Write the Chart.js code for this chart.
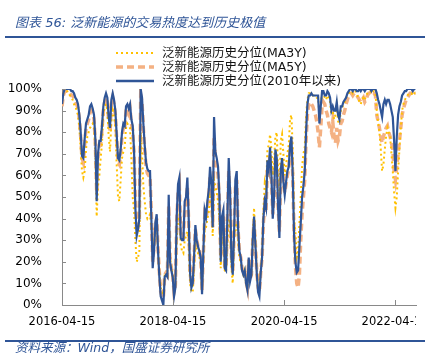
<!DOCTYPE html>
<html lang="zh">

<head>
    <meta charset="UTF-8">
    <script src="https://cdn.jsdelivr.net/npm/chart.js"></script>
    <title>泛新能源的交易热度</title>
    <style>
        body { margin: 0; background: #fff; }
        .wrap { position: relative; width: 443px; height: 364px; overflow: hidden; }
        canvas { position: absolute; left: 0; top: 0; }
        .title, .source { position: absolute; left: 15px; font-style: italic; color: #2F5597; white-space: nowrap;
            font-family: "DejaVu Sans", "Noto Sans CJK SC", sans-serif; }
        .title { top: 14px; font-size: 13px; line-height: 18px; }
        .source { top: 341px; font-size: 12.5px; line-height: 14px; }
        .rule { position: absolute; left: 5px; width: 420px; height: 2px; background: #2F5597; }
        .legend { position: absolute; left: 115px; font-family: "DejaVu Sans", "Noto Sans CJK SC", sans-serif;
            font-size: 12.5px; line-height: 14px; color: #111; }
        .legend div { height: 14px; display: flex; align-items: center; white-space: nowrap; }
        .legend svg { width: 40px; height: 14px; margin-right: 7px; }
    </style>
</head>

<body>
    <div class="wrap">
        <canvas id="heatChart" width="443" height="364"></canvas>
        <div class="title">图表 56: 泛新能源的交易热度达到历史极值</div>
        <div class="rule" style="top:36px"></div>
        <div class="legend" style="top:46px">
            <div><svg><line x1="1" y1="7" x2="39" y2="7" stroke="#FFC000" stroke-width="2" stroke-dasharray="2 3"/></svg>泛新能源历史分位(MA3Y)</div>
            <div><svg><line x1="1" y1="7" x2="39" y2="7" stroke="#F4B183" stroke-width="3.5" stroke-dasharray="7 4"/></svg>泛新能源历史分位(MA5Y)</div>
            <div><svg><line x1="1" y1="7" x2="39" y2="7" stroke="#2F5597" stroke-width="2.5"/></svg>泛新能源历史分位(2010年以来)</div>
        </div>
        <div class="rule" style="top:340px"></div>
        <div class="source">资料来源：Wind，国盛证券研究所</div>
    </div>

<script>
    // x axis labels and the first date of the series
    const tickDates = ['2016-04-15', '2018-04-15', '2020-04-15', '2022-04-15'];
    const startDate = '2016-04-15';
    const dayStep = 8.775;   // days between two samples
    const lastDay = 2329;

    const seriesNames = ['泛新能源历史分位(2010年以来)', '泛新能源历史分位(MA3Y)', '泛新能源历史分位(MA5Y)'];

    // 泛新能源历史分位(2010年以来)
    const since2010 = [
        93, 98, 100, 100, 100, 100, 100, 99, 99, 98,
        96, 95, 93, 88, 80, 69, 68, 77, 84, 86,
        88, 92, 93, 91, 88, 77, 48, 70, 76, 76,
        83, 92, 96, 98, 96, 87, 82, 95, 98, 95,
        90, 79, 68, 67, 72, 80, 84, 83, 92, 93,
        91, 93, 86, 83, 72, 45, 32, 35, 40, 100,
        96, 84, 74, 66, 63, 62, 62, 40, 17, 25,
        38, 42, 25, 13, 4, 2, 0, 13, 14, 13,
        51, 20, 16, 13, 4, 8, 41, 56, 59, 31,
        30, 30, 48, 50, 59, 40, 15, 8, 10, 22,
        37, 30, 27, 25, 22, 5, 25, 44, 41, 48,
        53, 64, 56, 36, 87, 71, 68, 64, 51, 20,
        41, 44, 17, 16, 41, 68, 53, 22, 14, 33,
        58, 62, 36, 25, 22, 16, 14, 16, 10, 7,
        22, 11, 14, 30, 41, 28, 15, 6, 4, 15,
        22, 40, 48, 45, 67, 63, 73, 60, 40, 50,
        72, 68, 45, 31, 62, 68, 57, 51, 57, 62,
        64, 74, 78, 60, 32, 20, 15, 16, 27, 38,
        50, 55, 62, 80, 93, 97, 97, 98, 97, 97,
        97, 97, 97, 84, 92, 99, 99, 97, 97, 99,
        98, 96, 90, 92, 90, 90, 94, 88, 86, 92,
        92, 94, 95, 96, 98, 99, 100, 100, 99, 100,
        100, 99, 99, 100, 99, 100, 100, 99, 100, 100,
        100, 100, 99, 100, 100, 100, 98, 95, 93, 90,
        87, 93, 95, 93, 95, 95, 93, 90, 87, 76,
        62, 78, 88, 92, 94, 97, 98, 99, 99, 100,
        100, 100, 100, 99, 100, 100
    ];

    // 泛新能源历史分位(MA3Y)
    const ma3y = [
        93, 98, 99, 99, 99, 98, 97, 96, 95, 93,
        92, 90, 88, 82, 72, 62, 59, 62, 72, 78,
        80, 82, 83, 84, 83, 70, 41, 55, 60, 68,
        75, 88, 92, 93, 90, 78, 71, 85, 90, 88,
        82, 65, 50, 48, 58, 68, 71, 73, 82, 84,
        83, 82, 68, 50, 44, 30, 20, 22, 25, 80,
        70, 55, 48, 42, 40, 41, 42, 36, 30, 28,
        34, 36, 25, 15, 8, 6, 5, 14, 15, 14,
        40, 22, 17, 14, 7, 9, 30, 40, 42, 28,
        25, 24, 30, 32, 34, 28, 10, 6, 6, 16,
        28, 26, 24, 22, 20, 6, 22, 35, 36, 40,
        43, 50, 48, 32, 58, 55, 52, 48, 40, 17,
        32, 34, 16, 15, 28, 40, 38, 18, 10, 30,
        37, 38, 30, 22, 20, 16, 14, 16, 10, 8,
        20, 12, 14, 32, 45, 30, 17, 8, 6, 16,
        24, 44, 56, 52, 72, 74, 79, 72, 60, 66,
        78, 80, 62, 50, 76, 79, 70, 60, 65, 70,
        74, 86, 88, 72, 40, 34, 22, 24, 38, 50,
        64, 70, 73, 88, 95, 98, 98, 98, 97, 97,
        97, 96, 96, 88, 92, 98, 98, 96, 95, 97,
        96, 94, 88, 90, 86, 88, 92, 85, 84, 90,
        91, 93, 94, 96, 97, 98, 99, 99, 98, 99,
        99, 98, 96, 94, 93, 95, 96, 95, 97, 98,
        99, 99, 98, 99, 99, 98, 90, 85, 80, 72,
        62, 65, 72, 78, 82, 80, 78, 70, 62, 52,
        45, 50, 62, 72, 82, 90, 93, 95, 96, 97,
        98, 98, 98, 97, 98, 98
    ];

    // 泛新能源历史分位(MA5Y)
    const ma5y = [
        92, 97, 99, 99, 99, 99, 98, 97, 97, 96,
        95, 93, 91, 86, 78, 68, 66, 74, 82, 84,
        86, 89, 90, 89, 86, 75, 52, 68, 74, 74,
        81, 90, 94, 96, 94, 85, 80, 93, 96, 93,
        88, 77, 66, 65, 70, 78, 82, 81, 90, 91,
        89, 91, 84, 81, 70, 48, 34, 36, 40, 97,
        94, 82, 72, 64, 61, 60, 60, 42, 20, 27,
        36, 40, 26, 15, 6, 4, 3, 14, 15, 14,
        46, 22, 17, 14, 6, 9, 38, 52, 55, 32,
        31, 31, 45, 47, 55, 38, 16, 9, 10, 22,
        35, 30, 27, 25, 22, 7, 24, 41, 39, 45,
        50, 60, 53, 36, 78, 68, 65, 60, 48, 22,
        39, 42, 18, 17, 39, 62, 50, 23, 15, 31,
        54, 58, 35, 25, 22, 17, 15, 16, 11, 8,
        21, 12, 14, 29, 39, 28, 16, 8, 6, 15,
        22, 38, 46, 44, 64, 62, 70, 60, 42, 50,
        69, 66, 46, 34, 60, 66, 57, 52, 56, 60,
        63, 72, 76, 60, 34, 18, 10, 8, 14, 30,
        42, 50, 58, 76, 88, 93, 94, 93, 92, 90,
        88, 85, 80, 73, 82, 92, 94, 93, 90, 88,
        84, 82, 80, 85, 78, 75, 82, 76, 78, 84,
        85, 88, 90, 93, 95, 97, 98, 98, 97, 98,
        98, 97, 96, 95, 94, 95, 96, 94, 95, 97,
        98, 98, 97, 98, 98, 97, 88, 85, 82, 78,
        75, 78, 80, 82, 83, 80, 78, 75, 72, 62,
        58, 64, 70, 76, 82, 88, 91, 93, 95, 96,
        97, 98, 98, 97, 98, 98
    ];

    const dayOf = d => Math.round((Date.parse(d) - Date.parse(startDate)) / 864e5);
    const toPoints = arr => arr.map((v, i) => ({ x: i * dayStep, y: v }));

    // inner tick marks + x labels (the source picture cuts the last label)
    const axisDecor = {
        id: 'axisDecor',
        afterDraw(chart) {
            const { ctx, chartArea, scales: { x, y } } = chart;
            ctx.save();
            ctx.strokeStyle = '#898989';
            ctx.lineWidth = 1;
            for (let v = 10; v <= 100; v += 10) {
                const py = Math.round(y.getPixelForValue(v)) + 0.5;
                ctx.beginPath();
                ctx.moveTo(chartArea.left, py);
                ctx.lineTo(chartArea.left + 4, py);
                ctx.stroke();
            }
            tickDates.forEach(d => {
                const px = Math.round(x.getPixelForValue(dayOf(d))) + 0.5;
                ctx.beginPath();
                ctx.moveTo(px, chartArea.bottom);
                ctx.lineTo(px, chartArea.bottom - 5);
                ctx.stroke();
            });
            ctx.beginPath();
            ctx.rect(0, 0, chartArea.right, chart.height);
            ctx.clip();
            ctx.fillStyle = '#000';
            ctx.font = '11.5px "DejaVu Sans"';
            ctx.textAlign = 'center';
            ctx.textBaseline = 'middle';
            tickDates.forEach(d => ctx.fillText(d, x.getPixelForValue(dayOf(d)), chartArea.bottom + 17));
            ctx.restore();
        }
    };

    const ctx = document.getElementById('heatChart').getContext('2d');
    new Chart(ctx, {
        type: 'line',
        data: {
            datasets: [
                {
                    label: seriesNames[0],
                    data: toPoints(since2010),
                    borderColor: '#2F5597',
                    borderWidth: 2.2
                },
                {
                    label: seriesNames[1],
                    data: toPoints(ma3y),
                    borderColor: '#FFC000',
                    borderWidth: 2,
                    borderDash: [2, 3]
                },
                {
                    label: seriesNames[2],
                    data: toPoints(ma5y),
                    borderColor: '#F4B183',
                    borderWidth: 3.5,
                    borderDash: [7, 4]
                }
            ]
        },
        options: {
            responsive: false,
            animation: false,
            elements: {
                point: { radius: 0 },
                line: { tension: 0 }
            },
            layout: { padding: { left: 0, top: 89, right: 27, bottom: 59 } },
            plugins: {
                legend: { display: false },
                tooltip: { enabled: false }
            },
            scales: {
                x: {
                    type: 'linear',
                    min: 0,
                    max: lastDay,
                    grid: { display: false },
                    border: { display: true, color: '#898989', width: 1 },
                    ticks: { display: false },
                    afterFit: s => { s.height = 0; }
                },
                y: {
                    min: 0,
                    max: 100,
                    grid: { display: false },
                    border: { display: true, color: '#898989', width: 1 },
                    ticks: {
                        stepSize: 10,
                        padding: 12,
                        color: '#000',
                        font: { family: 'DejaVu Sans', size: 12 },
                        callback: v => v + '%'
                    },
                    afterFit: s => { s.width = 62; }
                }
            }
        },
        plugins: [axisDecor]
    });
</script>
</body>

</html>
